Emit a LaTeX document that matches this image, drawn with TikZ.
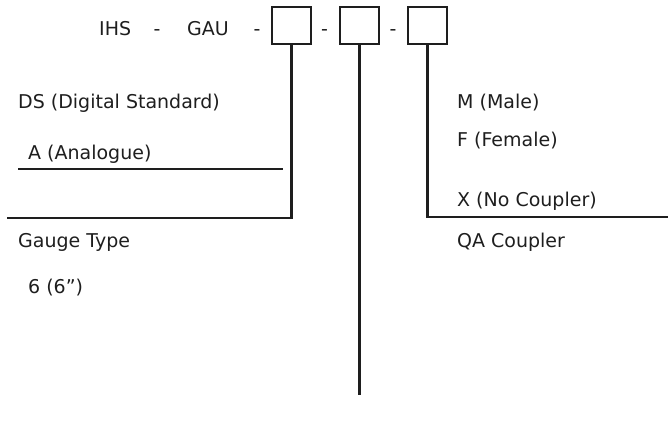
\documentclass[tikz,border=0pt]{standalone}
\usepackage{fontspec}
\setmainfont{DejaVu Sans}
\definecolor{ink}{HTML}{1E1E1E}
\begin{document}
\begin{tikzpicture}[x=1pt,y=-1pt,
  lbl/.style={inner sep=0pt,anchor=base west,text=ink,font=\fontsize{19}{22}\selectfont},
  sep/.style={inner sep=0pt,anchor=base,text=ink,font=\fontsize{19}{22}\selectfont},
  codebox/.style={draw=ink,line width=2.3pt,minimum width=39pt,minimum height=37pt,inner sep=0pt},
  conn/.style={draw=ink,line width=2.3pt}]
\useasboundingbox (0,0) rectangle (668,425);
% header
\node[lbl] (ihs) at (99,36) {IHS};
\node[sep] (d1) at (157,36) {-};
\node[lbl] (gau) at (187,36) {GAU};
\node[sep] (d2) at (257,36) {-};
\node[codebox] (b1) at (291.5,25.5) {};
\node[sep] (d3) at (324.5,36) {-};
\node[codebox] (b2) at (359.5,25.5) {};
\node[sep] (d4) at (393,36) {-};
\node[codebox] (b3) at (427.5,25.5) {};
% left labels
\node[lbl] (ds) at (18,109) {DS (Digital Standard)};
\node[lbl] (an) at (28,159) {A (Analogue)};
\node[lbl] (gt) at (18,247) {Gauge Type};
\node[lbl] (six) at (28,293) {6 (6”)};
% right labels
\node[lbl] (m) at (457,109) {M (Male)};
\node[lbl] (f) at (457,146) {F (Female)};
\node[lbl] (x) at (457,206) {X (No Coupler)};
\node[lbl] (qa) at (457,247) {QA Coupler};
% connectors
\coordinate (c1) at (7,218);
\coordinate (c2) at (359.5,395);
\coordinate (c3) at (668,217);
\coordinate (u1) at (18,169);
\coordinate (u2) at (283,169);
\draw[conn] (b1.south) |- (c1);
\draw[conn] (b2.south) -- (c2);
\draw[conn] (b3.south) |- (c3);
\draw[conn] (u1) -- (u2);
\end{tikzpicture}
\end{document}
